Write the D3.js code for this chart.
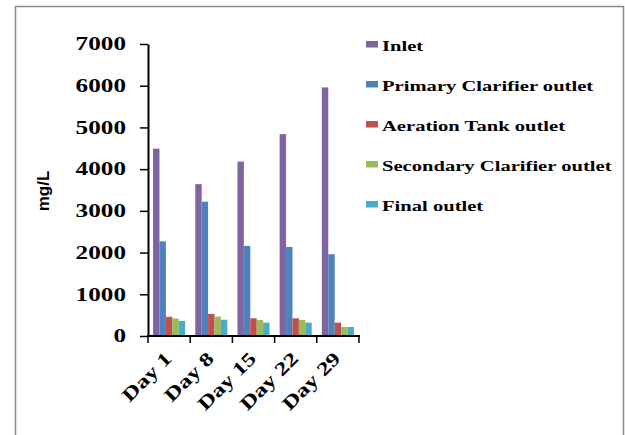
<!DOCTYPE html>
<html><head><meta charset="utf-8">
<script src="https://cdn.jsdelivr.net/npm/d3@7"></script>
<style>body{margin:0;background:#fff}svg{display:block}</style>
</head><body>
<script>
const days = ["Day 1","Day 8","Day 15","Day 22","Day 29"];
const seriesNames = ["Inlet","Primary Clarifier outlet","Aeration Tank outlet","Secondary Clarifier outlet","Final outlet"];
const inlet = [4490, 3640, 4180, 4840, 5960];
const primary = [2270, 3220, 2160, 2135, 1960];
const aeration = [460, 530, 425, 425, 320];
const secondary = [420, 465, 385, 385, 215];
const finalOut = [360, 390, 320, 320, 215];
const yTicks = [0,1000,2000,3000,4000,5000,6000,7000];
const colors = ["#8064A2","#4F81BD","#C0504D","#9BBB59","#4BACC6"];
const values = [inlet, primary, aeration, secondary, finalOut];

const W = 625, H = 435, stretch = 1.4;
const svg = d3.select("body").append("svg").attr("width", W).attr("height", H);
svg.append("rect").attr("x",15.5).attr("y",6.5).attr("width",608).attr("height",460)
  .attr("fill","none").attr("stroke","#8a8a8a").attr("stroke-width",1.5);

const x0 = d3.scaleBand().domain(days).range([148,359]).paddingInner(0.24).paddingOuter(0.12);
const x1 = d3.scaleBand().domain(seriesNames).range([0, x0.bandwidth()]);
const y = d3.scaleLinear().domain([0,7000]).range([336,44]);

function widen(sel, f){
  sel.each(function(){ const l=this.getComputedTextLength(); d3.select(this).attr("textLength", l*f).attr("lengthAdjust","spacingAndGlyphs"); });
}

// bars
seriesNames.forEach((s,i)=>{
  svg.append("g").selectAll("rect").data(days).join("rect")
    .attr("x", d=>x0(d)+x1(s)).attr("width", x1.bandwidth())
    .attr("y", (d,j)=>y(values[i][j])).attr("height",(d,j)=>y(0)-y(values[i][j]))
    .attr("fill", colors[i]);
});

// y axis
const ya = svg.append("g").attr("transform","translate(148,0)")
  .call(d3.axisLeft(y).tickValues(yTicks).tickSize(8).tickSizeOuter(0).tickFormat(d3.format("d")));
ya.select(".domain").attr("stroke","#000").attr("stroke-width",2);
ya.selectAll(".tick line").attr("stroke","#000").attr("stroke-width",1.5);
ya.selectAll(".tick text").attr("x",-22).attr("font-family","Liberation Serif").attr("font-weight","bold")
  .attr("font-size",18).attr("fill","#000");
widen(ya.selectAll(".tick text"), stretch);

// x axis
const xa = svg.append("g").attr("transform","translate(0,336)");
xa.append("line").attr("x1",147).attr("x2",360).attr("stroke","#000").attr("stroke-width",2);
const bounds = [x0.range()[0]].concat(days.map(d=>x0(d)+x0.bandwidth()+x0.step()*x0.paddingInner()/2));
bounds[bounds.length-1] = x0.range()[1];
xa.selectAll(".xt").data(bounds).join("line").attr("class","xt")
  .attr("x1",d=>d).attr("x2",d=>d).attr("y1",0).attr("y2",7).attr("stroke","#000").attr("stroke-width",1.5);
const xl = svg.append("g").selectAll("text").data(days).join("text")
  .attr("transform", d=>`translate(${x0(d)+x0.bandwidth()/2-1},355) rotate(-45)`)
  .attr("text-anchor","end").attr("dy","0.35em")
  .attr("font-family","Liberation Serif").attr("font-weight","bold").attr("font-size",19).attr("fill","#000")
  .text(d=>d);
widen(xl, 1.3);

// y title
svg.append("text").attr("transform","translate(49,191) rotate(-90)").attr("text-anchor","middle")
  .attr("font-family","Liberation Sans").attr("font-weight","bold").attr("font-size",17).text("mg/L");

// legend
const lg = svg.append("g").selectAll("g").data(seriesNames).join("g")
  .attr("transform",(d,i)=>`translate(366,${41+i*40})`);
lg.append("rect").attr("width",12).attr("height",6.5).attr("fill",(d,i)=>colors[i]);
const lt = lg.append("text").attr("x",16).attr("y",9.7)
  .attr("font-family","Liberation Serif").attr("font-weight","bold").attr("font-size",14.5).attr("fill","#000")
  .text(d=>d);
widen(lt, 1.42);
</script>
</body></html>
